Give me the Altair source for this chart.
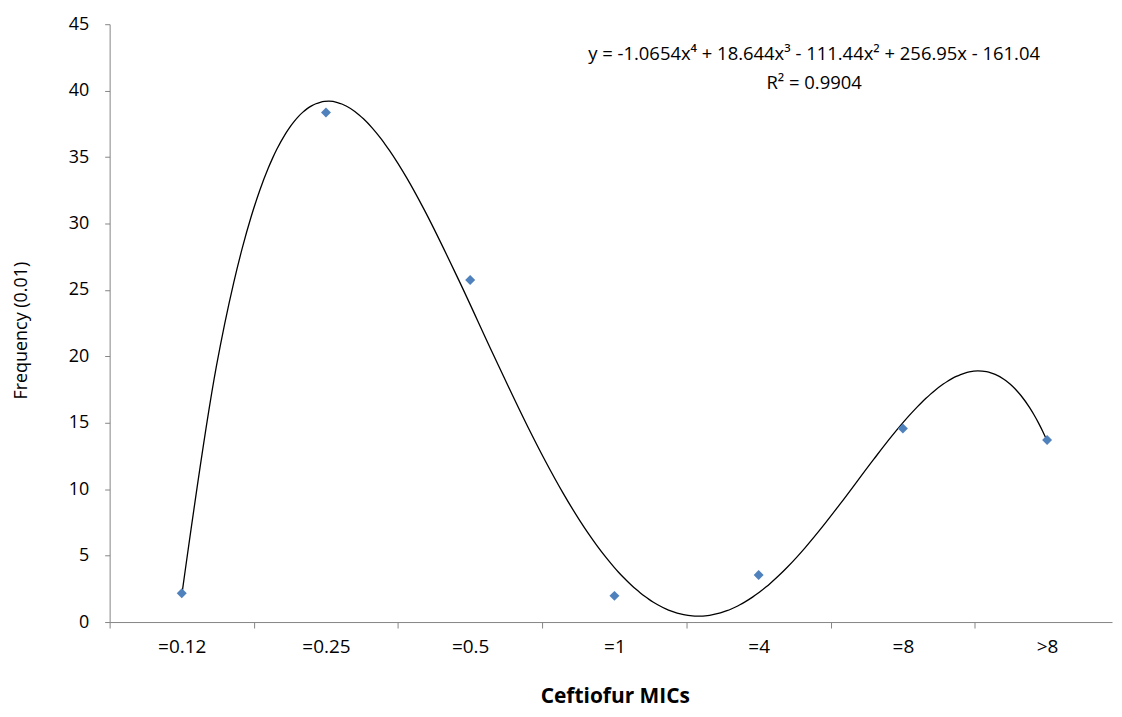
import json
import altair as alt
import pandas as pd

# ---- data ----
categories = ["=0.12", "=0.25", "=0.5", "=1", "=4", "=8", ">8"]
positions = [1, 2, 3, 4, 5, 6, 7]
frequency = [2.17, 38.35, 25.75, 1.97, 3.54, 14.57, 13.70]
y_ticks = [0, 5, 10, 15, 20, 25, 30, 35, 40, 45]
equation_lines = [
    "y = -1.0654x\u2074 + 18.644x\u00b3 - 111.44x\u00b2 + 256.95x - 161.04",
    "R\u00b2 = 0.9904",
]

df = pd.DataFrame({"pos": positions, "cat": categories, "freq": frequency})

FONT = "Open Sans"
AXIS_GRAY = "#868686"

x_tick_values = [0.5, 1, 1.5, 2, 2.5, 3, 3.5, 4, 4.5, 5, 5.5, 6, 6.5, 7]
label_expr = (
    "datum.value % 1 == 0 ? " + json.dumps(categories) + "[datum.value - 1] : ''"
)

x_enc = alt.X(
    "pos:Q",
    scale=alt.Scale(domain=[0.5, 7.45], nice=False, zero=False),
    axis=alt.Axis(
        values=x_tick_values,
        labelExpr=label_expr,
        tickOpacity={"condition": {"test": "datum.value % 1 == 0", "value": 0}, "value": 1},
        tickSize=6,
        tickColor=AXIS_GRAY,
        domainColor=AXIS_GRAY,
        grid=False,
        labelFont=FONT,
        labelFontSize=19,
        labelColor="#000000",
        labelPadding=10,
        labelFlush=False,
        labelOverlap=False,
        labelBound=False,
        title="Ceftiofur MICs",
        titleFont=FONT,
        titleFontSize=21,
        titleFontWeight="bold",
        titleColor="#000000",
        titleX=507,
        titleY=75,
        titleAlign="center",
        titleBaseline="middle",
    ),
)

y_enc = alt.Y(
    "freq:Q",
    scale=alt.Scale(domain=[0, 45], nice=False),
    axis=alt.Axis(
        values=y_ticks,
        tickSize=5,
        tickColor=AXIS_GRAY,
        domainColor=AXIS_GRAY,
        grid=False,
        labelFont=FONT,
        labelFontSize=18,
        labelColor="#000000",
        labelPadding=16,
        labelFlush=False,
        title="Frequency (0.01)",
        titleFont=FONT,
        titleFontSize=18,
        titleFontWeight="normal",
        titleColor="#000000",
        titleAngle=270,
        titleX=-88,
        titleY=307,
        titleAlign="center",
        titleBaseline="middle",
    ),
)

base = alt.Chart(df)

trend = base.transform_regression(
    "pos", "freq", method="poly", order=4
).mark_line(color="#000000", strokeWidth=1.3, interpolate="monotone").encode(
    x=x_enc, y=y_enc
)

points = base.mark_point(
    shape="diamond", filled=True, size=100, color="#4F81BD", opacity=1
).encode(x=x_enc, y=y_enc)

eq1 = alt.Chart(pd.DataFrame({"t": [equation_lines[0]]})).mark_text(
    font=FONT, fontSize=18.5, color="#000000", align="center", baseline="middle"
).encode(text="t:N", x=alt.value(707), y=alt.value(30))

eq2 = alt.Chart(pd.DataFrame({"t": [equation_lines[1]]})).mark_text(
    font=FONT, fontSize=18.5, color="#000000", align="center", baseline="middle"
).encode(text="t:N", x=alt.value(707), y=alt.value(59))

chart = (
    alt.layer(trend, points, eq1, eq2)
    .properties(
        width=1006,
        height=600,
        autosize=alt.AutoSizeParams(type="none"),
        padding={"left": 102, "top": 15, "right": 2, "bottom": 86},
        background="#ffffff",
    )
    .configure_view(stroke=None)
)

chart.save("out.html", embed_options={"renderer": "svg", "actions": False})
